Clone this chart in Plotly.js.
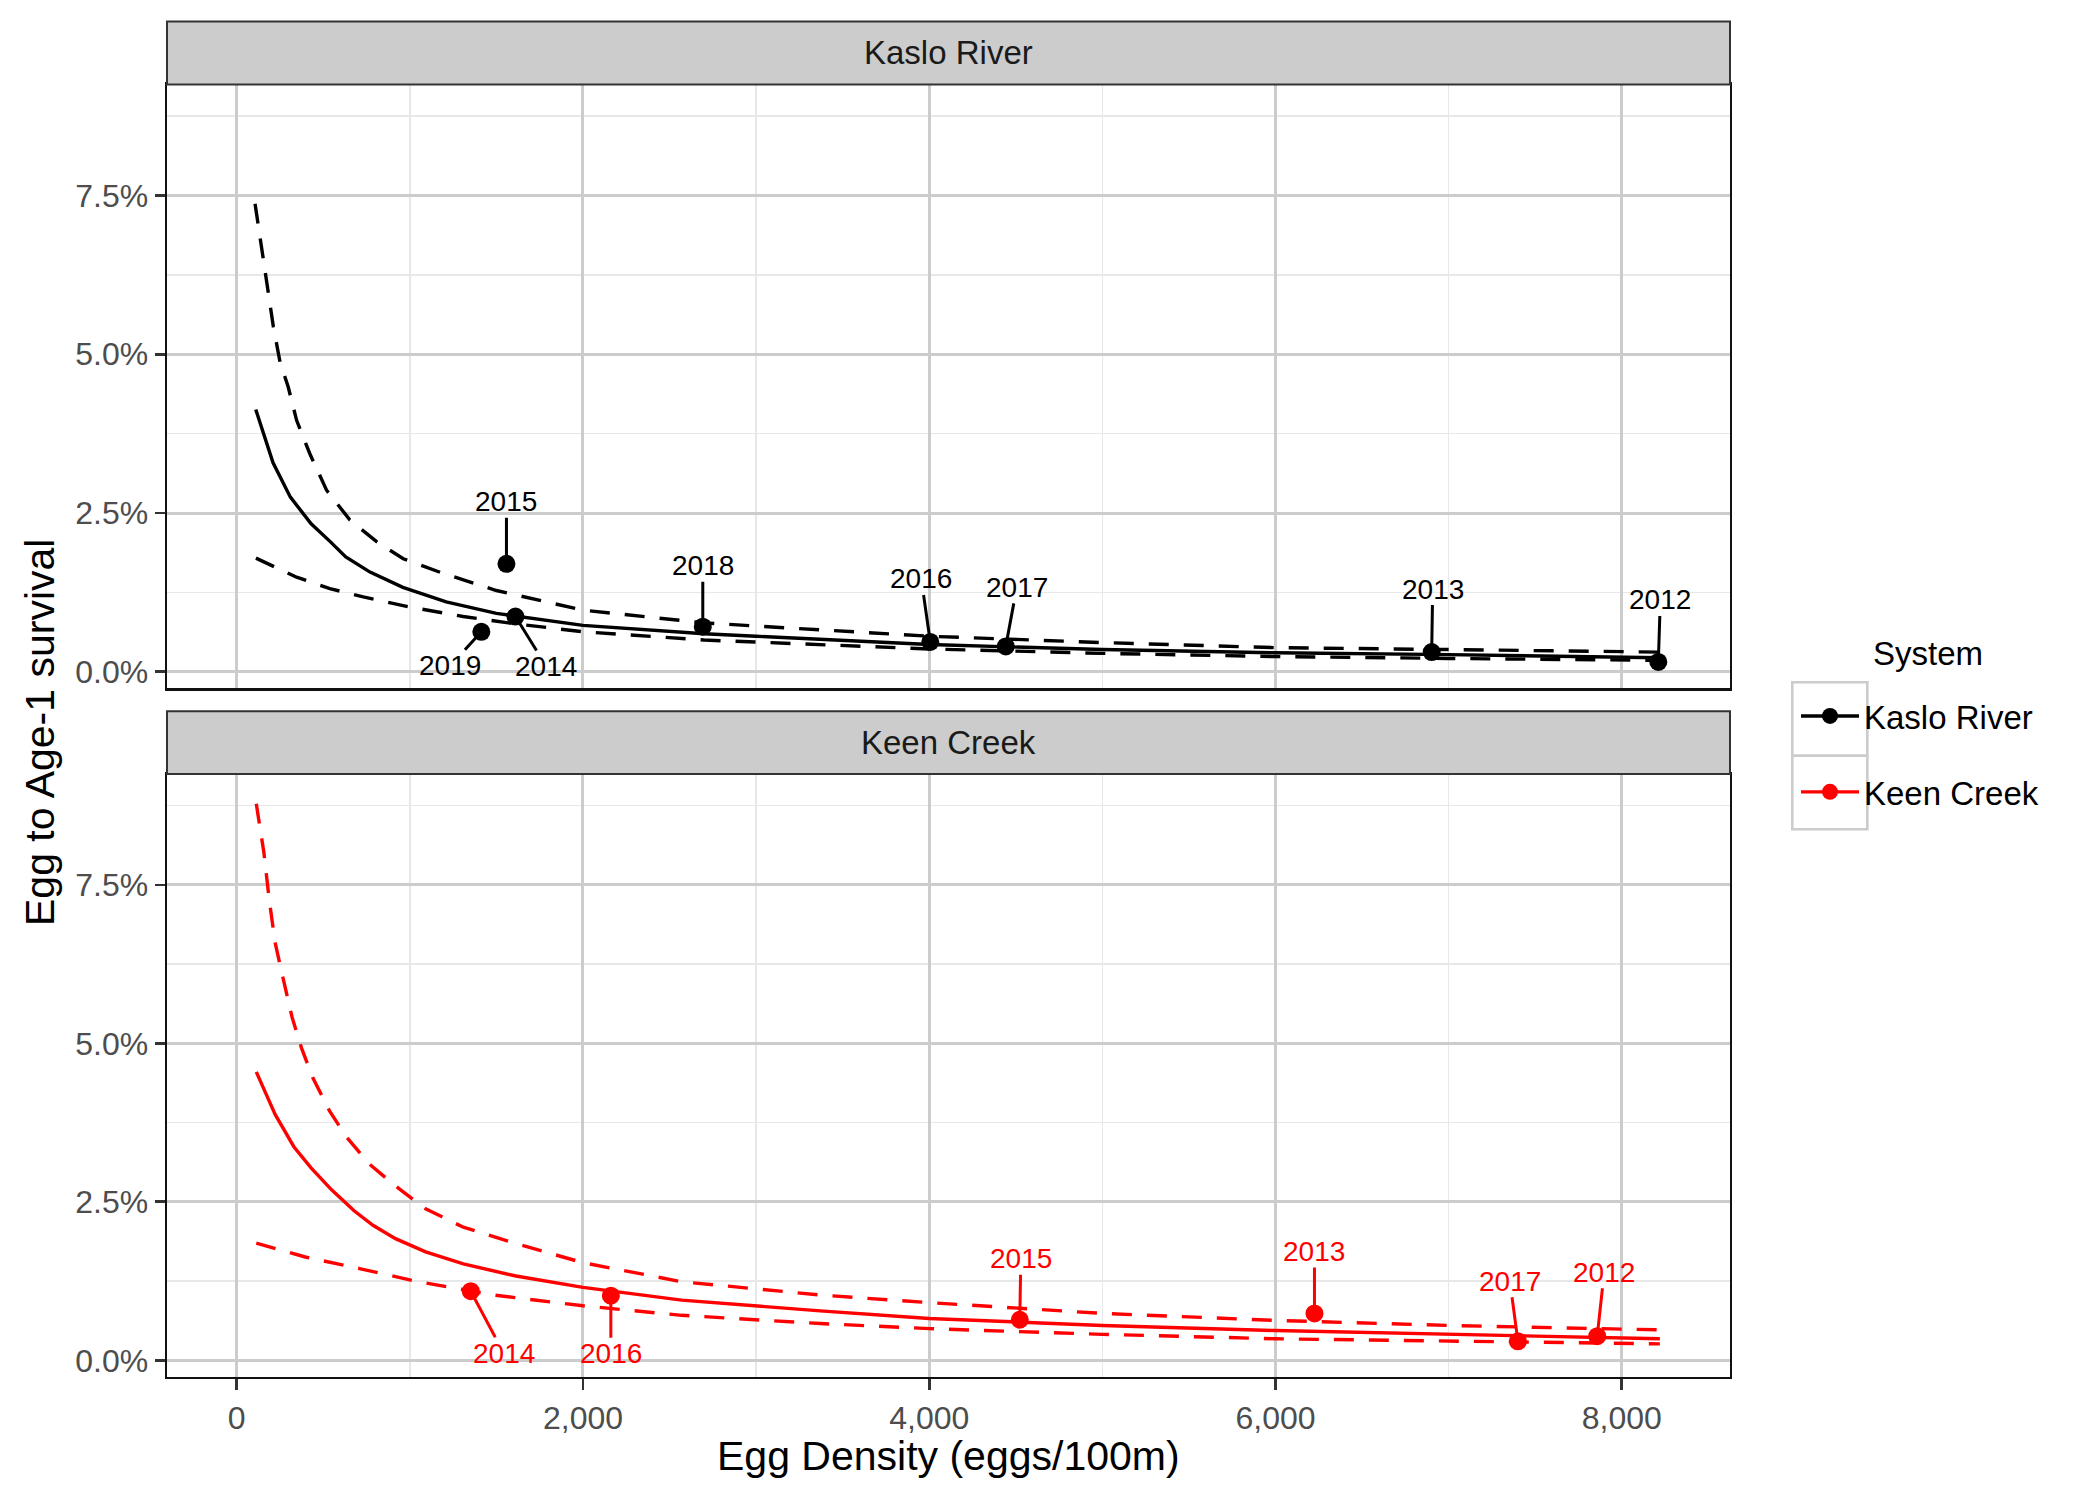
<!DOCTYPE html>
<html>
<head>
<meta charset="utf-8">
<script src="https://cdn.plot.ly/plotly-3.0.1.min.js"></script>
<style>html,body{margin:0;padding:0;background:#fff;}#chart{width:2100px;height:1500px;}</style>
</head>
<body>
<div id="chart"></div>
<script>
// ---------- DATA ----------
const systems = ['Kaslo River', 'Keen Creek'];
const systemColors = ['#000000', '#FF0000'];

// Observed egg-to-age-1 survival (%) by egg density (eggs/100m)
const kasloYears = ['2015', '2019', '2014', '2018', '2016', '2017', '2013', '2012'];
const kasloEggs  = [1558, 1413, 1610, 2692, 4006, 4442, 6902, 8211];
const kasloSurv  = [1.70, 0.63, 0.87, 0.71, 0.47, 0.40, 0.31, 0.155];

const keenYears = ['2014', '2016', '2015', '2013', '2017', '2012'];
const keenEggs  = [1352, 2161, 4523, 6225, 7400, 7858];
const keenSurv  = [1.09, 1.02, 0.64, 0.74, 0.30, 0.38];

// Fitted curve (solid) and confidence bounds (dashed)
const kasloFitX = [110, 210, 310, 430, 540, 630, 770, 960, 1210, 1500, 2000, 2700, 3000, 4000, 5000, 6000, 7000, 8220];
const kasloFitY = [4.13, 3.29, 2.75, 2.33, 2.05, 1.81, 1.57, 1.33, 1.10, 0.92, 0.73, 0.60, 0.56, 0.43, 0.35, 0.30, 0.27, 0.22];

const kasloUpX = [106, 154, 183, 212, 250, 298, 346, 423, 519, 654, 808, 962, 1192, 1500, 2000, 2700, 3000, 4000, 5000, 6000, 7000, 8220];
const kasloUpY = [7.37, 6.53, 6.00, 5.43, 4.88, 4.48, 3.96, 3.43, 2.86, 2.39, 2.05, 1.78, 1.55, 1.28, 0.97, 0.77, 0.72, 0.56, 0.46, 0.38, 0.35, 0.31];

const kasloLoX = [111, 346, 538, 731, 1000, 1308, 1596, 2000, 2700, 4000, 5000, 6000, 7000, 8220];
const kasloLoY = [1.79, 1.49, 1.31, 1.18, 1.02, 0.87, 0.76, 0.63, 0.50, 0.36, 0.29, 0.24, 0.21, 0.18];

const keenFitX = [113, 222, 330, 428, 548, 678, 787, 917, 1091, 1309, 1613, 2000, 2570, 3370, 4000, 5000, 6000, 7000, 8220];
const keenFitY = [4.55, 3.88, 3.37, 3.04, 2.69, 2.36, 2.13, 1.92, 1.71, 1.52, 1.33, 1.15, 0.95, 0.78, 0.66, 0.55, 0.47, 0.41, 0.34];

const keenUpX = [113, 157, 189, 222, 265, 320, 374, 439, 537, 635, 765, 917, 1091, 1309, 1591, 2000, 2570, 3370, 4000, 5000, 6000, 7000, 8220];
const keenUpY = [8.78, 8.01, 7.24, 6.59, 6.06, 5.41, 4.93, 4.46, 3.93, 3.52, 3.10, 2.75, 2.39, 2.10, 1.86, 1.54, 1.24, 1.03, 0.91, 0.74, 0.63, 0.55, 0.48];

const keenLoX = [113, 396, 722, 1048, 1483, 2000, 2570, 3370, 4000, 5000, 6000, 7000, 8220];
const keenLoY = [1.85, 1.63, 1.44, 1.24, 1.03, 0.86, 0.71, 0.58, 0.50, 0.41, 0.34, 0.30, 0.26];

const xTickVals = [0, 2000, 4000, 6000, 8000];
const yTickVals = [0, 2.5, 5.0, 7.5];
const yTickText = yTickVals.map(v => v.toFixed(1) + '%');

// ---------- STYLE ----------
const FONT = 'Liberation Sans, Arial, Helvetica, sans-serif';
const W = 2100, H = 1500;
const panelL = 167, panelR = 1730;
const topPanel = [84.4, 688.3], botPanel = [774, 1376.8];
const topStrip = [21.4, 84.4], botStrip = [711.2, 774];
const px = v => v / W;
const py = v => 1 - v / H;

// label offsets (pixels) from each point to its label, in data order
const kasloLabelOffsets = [[0, -62], [-31, 34], [31, 50], [0, -61], [-9, -63], [11, -59], [1, -63], [2, -62]];
const keenLabelOffsets  = [[33, 62], [0, 58], [1, -61], [0, -62], [-8, -60], [7, -64]];

const LW = 3.4;
const DASH = '20px,15px';
const MS = 18;

function lineTrace(x, y, color, dash, xa, ya) {
  return {x: x, y: y, type: 'scatter', mode: 'lines', xaxis: xa, yaxis: ya,
    line: {color: color, width: LW, dash: dash}, showlegend: false, hoverinfo: 'skip'};
}
function pointTrace(x, y, color, xa, ya, name) {
  return {x: x, y: y, type: 'scatter', mode: 'markers', xaxis: xa, yaxis: ya, name: name,
    marker: {color: color, size: MS}, showlegend: false};
}

const traces = [
  // Kaslo River (top panel: x2/y2)
  lineTrace(kasloUpX, kasloUpY, systemColors[0], DASH, 'x2', 'y2'),
  lineTrace(kasloLoX, kasloLoY, systemColors[0], DASH, 'x2', 'y2'),
  lineTrace(kasloFitX, kasloFitY, systemColors[0], 'solid', 'x2', 'y2'),
  pointTrace(kasloEggs, kasloSurv, systemColors[0], 'x2', 'y2', systems[0]),
  // Keen Creek (bottom panel: x/y)
  lineTrace(keenUpX, keenUpY, systemColors[1], DASH, 'x', 'y'),
  lineTrace(keenLoX, keenLoY, systemColors[1], DASH, 'x', 'y'),
  lineTrace(keenFitX, keenFitY, systemColors[1], 'solid', 'x', 'y'),
  pointTrace(keenEggs, keenSurv, systemColors[1], 'x', 'y', systems[1]),
  // legend entries
  {x: [null], y: [null], type: 'scatter', mode: 'lines+markers', name: systems[0], legendgroup: 'a',
    line: {color: systemColors[0], width: LW}, marker: {color: systemColors[0], size: MS}, showlegend: true},
  {x: [null], y: [null], type: 'scatter', mode: 'lines+markers', name: systems[1], legendgroup: 'b',
    line: {color: systemColors[1], width: LW}, marker: {color: systemColors[1], size: MS}, showlegend: true}
];

const annotations = [];
kasloYears.forEach((yr, i) => annotations.push({
  x: kasloEggs[i], y: kasloSurv[i], xref: 'x2', yref: 'y2', text: yr,
  showarrow: true, arrowhead: 0, arrowwidth: 3, arrowcolor: systemColors[0], standoff: 0,
  ax: kasloLabelOffsets[i][0], ay: kasloLabelOffsets[i][1], borderpad: 0,
  font: {family: FONT, size: 28, color: systemColors[0]}
}));
keenYears.forEach((yr, i) => annotations.push({
  x: keenEggs[i], y: keenSurv[i], xref: 'x', yref: 'y', text: yr,
  showarrow: true, arrowhead: 0, arrowwidth: 3, arrowcolor: systemColors[1], standoff: 0,
  ax: keenLabelOffsets[i][0], ay: keenLabelOffsets[i][1], borderpad: 0,
  font: {family: FONT, size: 28, color: systemColors[1]}
}));
// strip labels
annotations.push({text: systems[0], xref: 'paper', yref: 'paper', x: px((panelL + panelR) / 2), y: py((topStrip[0] + topStrip[1]) / 2),
  showarrow: false, xanchor: 'center', yanchor: 'middle', font: {family: FONT, size: 33, color: '#1A1A1A'}});
annotations.push({text: systems[1], xref: 'paper', yref: 'paper', x: px((panelL + panelR) / 2), y: py((botStrip[0] + botStrip[1]) / 2),
  showarrow: false, xanchor: 'center', yanchor: 'middle', font: {family: FONT, size: 33, color: '#1A1A1A'}});
// axis titles
annotations.push({text: 'Egg Density (eggs/100m)', xref: 'paper', yref: 'paper', x: px((panelL + panelR) / 2), y: py(1456),
  showarrow: false, xanchor: 'center', yanchor: 'middle', font: {family: FONT, size: 41, color: '#000'}});
annotations.push({text: 'Egg to Age-1 survival', xref: 'paper', yref: 'paper', x: px(40), y: py(733), textangle: -90,
  showarrow: false, xanchor: 'center', yanchor: 'middle', font: {family: FONT, size: 41, color: '#000'}});
// legend title
annotations.push({text: 'System', xref: 'paper', yref: 'paper', x: px(1871), y: py(653.3),
  showarrow: false, xanchor: 'left', yanchor: 'middle', font: {family: FONT, size: 33, color: '#000'}});

const shapes = [
  {type: 'rect', xref: 'paper', yref: 'paper', x0: px(panelL), x1: px(panelR), y0: py(topStrip[1]), y1: py(topStrip[0]),
    fillcolor: '#CCCCCC', line: {color: '#333333', width: 2}},
  {type: 'rect', xref: 'paper', yref: 'paper', x0: px(panelL), x1: px(panelR), y0: py(botStrip[1]), y1: py(botStrip[0]),
    fillcolor: '#CCCCCC', line: {color: '#333333', width: 2}},
  // legend key boxes
  {type: 'rect', xref: 'paper', yref: 'paper', x0: px(1792.3), x1: px(1867.3), y0: py(755.7), y1: py(682.3),
    fillcolor: 'rgba(0,0,0,0)', line: {color: '#CCCCCC', width: 2.6}},
  {type: 'rect', xref: 'paper', yref: 'paper', x0: px(1792.3), x1: px(1867.3), y0: py(829.3), y1: py(755.7),
    fillcolor: 'rgba(0,0,0,0)', line: {color: '#CCCCCC', width: 2.6}}
];

const xRange = [-402.6, 8625];
const yRange = [-0.26, 9.25];

const baseX = {
  range: xRange, domain: [px(panelL), px(panelR)],
  showgrid: true, gridcolor: '#CCCCCC', gridwidth: 3,
  minor: {dtick: 1000, tick0: 0, showgrid: true, gridcolor: '#E8E8E8', gridwidth: 1.5, ticks: ''},
  tickmode: 'array', tickvals: xTickVals, tickformat: ',d', zeroline: false,
  showline: true, mirror: true, linecolor: '#111111', linewidth: 2.4,
  tickfont: {family: FONT, size: 32, color: '#4D4D4D'}
};
const baseY = {
  range: yRange,
  showgrid: true, gridcolor: '#CCCCCC', gridwidth: 3,
  minor: {dtick: 1.25, tick0: 0, showgrid: true, gridcolor: '#E8E8E8', gridwidth: 1.5, ticks: ''},
  tickmode: 'array', tickvals: yTickVals, ticktext: yTickText, zeroline: false,
  showline: true, mirror: true, linecolor: '#111111', linewidth: 2.4,
  ticks: 'outside', ticklen: 10, tickwidth: 2.8, tickcolor: '#333333',
  tickfont: {family: FONT, size: 32, color: '#4D4D4D'}
};

const layout = {
  width: W, height: H,
  margin: {l: 0, r: 0, t: 0, b: 0},
  paper_bgcolor: '#FFFFFF', plot_bgcolor: '#FFFFFF',
  font: {family: FONT},
  xaxis: Object.assign({}, baseX, {anchor: 'y', ticks: 'outside', ticklen: 11, tickwidth: 2.8, tickcolor: '#333333'}),
  xaxis2: Object.assign({}, baseX, {anchor: 'y2', matches: 'x', showticklabels: false, ticks: ''}),
  yaxis: Object.assign({}, baseY, {anchor: 'x', domain: [py(botPanel[1]), py(botPanel[0])]}),
  yaxis2: Object.assign({}, baseY, {anchor: 'x2', domain: [py(topPanel[1]), py(topPanel[0])]}),
  showlegend: true,
  legend: {x: px(1796), y: py(688), xanchor: 'left', yanchor: 'top',
    font: {family: FONT, size: 33, color: '#000'}, bgcolor: 'rgba(0,0,0,0)',
    itemwidth: 58, tracegroupgap: 30, traceorder: 'grouped'},
  annotations: annotations,
  shapes: shapes
};

Plotly.newPlot('chart', traces, layout, {staticPlot: true, displayModeBar: false});
</script>
</body>
</html>
